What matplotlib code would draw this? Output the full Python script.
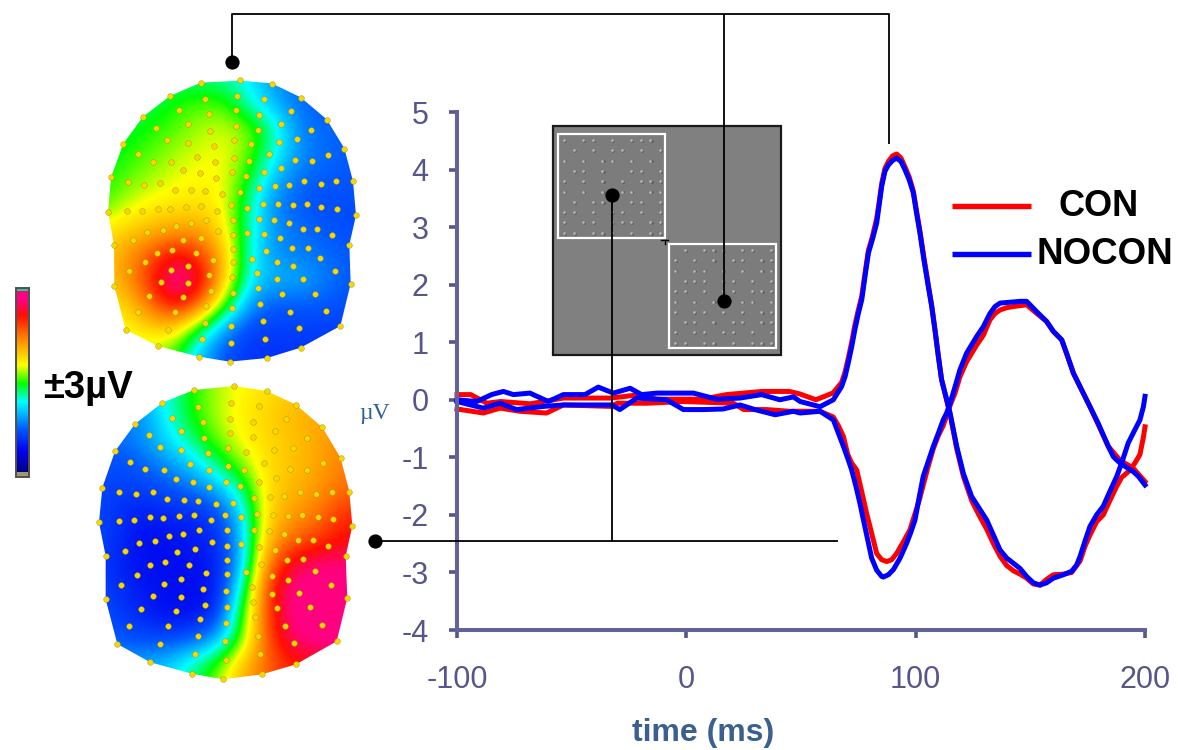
import numpy as np
import matplotlib
matplotlib.use("Agg")
import matplotlib.pyplot as plt
from matplotlib.colors import LinearSegmentedColormap
from matplotlib.patches import Polygon, Rectangle

plt.rcParams['font.family'] = ['Liberation Sans', 'DejaVu Sans']
plt.rcParams['axes.unicode_minus'] = False

# ---------- waveforms (ms, microvolt) ----------
t_nocon_a = [-100,-91.4,-84.9,-79.8,-75.4,-68.2,-60.2,-53.6,-44.2,-38.4,-31.8,-24.5,-19.5,-12.9,3.1,13.2,23.4,32.8,40.8,46.7,49.6,58.3,64.1,67.7,69.2,70.6,72.1,73.5,75,76.5,77.9,79.4,81.1,83,84.2,85.2,86.6,88.1,90,91.7,93.6,95.3,97.2,99,100.4,101.9,103.6,105.5,107,108.4,109.9,111.3,115,117.9,120.8,124.4,127.3,131,133.9,136.8,139.7,142.6,145.5,148.4,151.3,154.2,157.1,160,164.4,168,170.2,171.7,173.8,176,178.9,181.8,184.7,187.7,189.8,192.7,195.6,197.8,199.3,200]
v_nocon_a = [0,-.03,.09,.145,.09,.116,-.03,.09,.09,.22,.116,.2,.09,.116,.116,.01,.03,.09,0,.05,-.03,-.12,0,.23,.40,.64,.92,1.22,1.5,1.74,2.14,2.55,2.78,3.07,3.42,3.71,3.97,4.08,4.16,4.2,4.14,4.0,3.82,3.59,3.24,2.89,2.43,1.97,1.62,1.22,.75,.35,-.23,-.81,-1.28,-1.68,-1.86,-2.09,-2.35,-2.61,-2.75,-2.84,-2.93,-3.07,-3.18,-3.22,-3.18,-3.1,-3.04,-2.98,-2.87,-2.72,-2.46,-2.2,-2.0,-1.85,-1.59,-1.33,-1.1,-.75,-.52,-.35,-.12,.06]
t_nocon_b = [-100,-88.5,-81.2,-74,-62.3,-53.6,-42,-32.5,-29,-21.6,-8.6,-1.3,7.4,16,23.4,29.9,38.7,46.7,49.6,58.3,64.1,66.3,68.5,70.4,72.1,74,75.7,77.5,79.4,80.8,83,85.2,85.9,88.1,90.3,93.2,96.1,98,99.7,101.6,103.3,105.5,107.7,109.9,112,113.5,115,117.2,119.3,122.2,126.6,129.5,132.4,134.6,136.8,139.7,142.6,145.5,148.4,152.8,157.1,160,163.7,165.8,168.8,172.4,176,179.6,184,186.2,189.1,194.9,197.1,200]
v_nocon_b = [-.03,-.145,-.06,-.17,-.115,-.09,-.09,-.09,-.17,.03,.0,-.17,-.17,-.16,-.09,-.17,-.26,-.2,-.23,-.2,-.35,-.58,-.81,-1.02,-1.22,-1.51,-1.8,-2.14,-2.49,-2.75,-2.96,-3.07,-3.08,-3.04,-2.95,-2.75,-2.49,-2.29,-2.09,-1.68,-1.33,-1.07,-.81,-.58,-.35,-.23,-.06,.23,.52,.81,1.1,1.27,1.5,1.62,1.68,1.69,1.7,1.71,1.71,1.53,1.36,1.19,1.04,.81,.46,.17,-.12,-.41,-.81,-.99,-1.1,-1.25,-1.33,-1.48]
t_con_a = [-100,-94,-87,-81,-68,-53.6,-33,-20,-13,7,17.5,33,45,49.6,56.5,64,67.7,69.2,70.6,72.1,73.5,75,76.5,77.9,79.4,81.1,83,84.2,85.2,86.6,88.1,90,91.7,93.6,95.3,97.2,99,100.4,101.9,103.6,105.5,107,108.4,109.9,111.3,115,117.9,120.8,124.4,127.3,131,133.9,136.8,139.7,142.6,145.5,148.4,151.3,154.2,157.1,160,164.4,168,171.7,173.8,176,178.9,181.8,184.7,187.7,189.8,192.7,195.6,197.8,199.3,200]
v_con_a = [.09,.09,-.06,-.03,-.07,.03,.03,.09,.01,.01,.09,.145,.145,.1,0,.12,.3,.48,.72,1,1.3,1.56,1.8,2.2,2.6,2.83,3.15,3.47,3.76,4.02,4.14,4.24,4.27,4.2,4.05,3.87,3.62,3.28,2.92,2.47,2.0,1.64,1.22,.76,.35,-.25,-.85,-1.33,-1.75,-1.98,-2.25,-2.5,-2.72,-2.88,-2.97,-3.03,-3.1,-3.2,-3.22,-3.12,-3.04,-3.03,-3.0,-2.8,-2.55,-2.35,-2.12,-2.0,-1.75,-1.5,-1.35,-1.25,-1.1,-.95,-.65,-.47]
t_con_b = [-100,-88.5,-81.2,-72.5,-61,-53.6,-33,-30,-17,-1.3,20.5,25,35,45,49.6,58.3,64.1,66.3,68.5,70.4,72.1,74.3,76.5,78.6,81,83,85.2,87.4,89.5,91.7,94.6,97.5,101.6,105.5,107.7,109.9,112,115,117.2,119.3,122.2,126.6,129.5,132.4,134.6,136.8,139.7,142.6,148.4,152.8,157.1,160,163.7,168.8,176,184,189.1,194.9,200]
v_con_b = [-.16,-.23,-.145,-.2,-.23,-.09,-.115,-.06,-.06,-.03,-.06,-.17,-.17,-.2,-.2,-.2,-.3,-.45,-.64,-.95,-1.1,-1.22,-1.6,-1.97,-2.35,-2.67,-2.78,-2.81,-2.78,-2.67,-2.47,-2.26,-1.74,-1.15,-.85,-.62,-.45,-.1,.12,.4,.66,.95,1.12,1.39,1.5,1.56,1.6,1.62,1.65,1.5,1.36,1.19,1.04,.46,-.12,-.81,-1.05,-1.19,-1.42]

x_ticks = [-100, 0, 100, 200]
y_ticks = [-4, -3, -2, -1, 0, 1, 2, 3, 4, 5]
legend_names = ["CON", "NOCON"]

# ---------- colour scale ----------
scale_vals = [-3, -2.2, -1.5, -.6, 0, .6, 1.5, 2.2, 2.7, 3]
scale_cols = ['#000070', '#0000f0', '#0058ff', '#00ffff', '#00ff00', '#ffff00', '#ff8000', '#ff1000', '#ff0080', '#ff0080']

# ---------- scalp fields, read on a coarse pixel lattice ----------
map1_x = [100,125,150,175,200,225,250,275,300,325,350]
map1_y = [80,105,130,155,180,205,230,255,280,305,330,355]
map1_v = [
 [-.3,-.3,-.3,-.3,-.3,-.4,-.7,-1.2,-1.4,-1.5,-1.5],
 [-.3,-.3,-.2,.05,.2,.15,-.5,-1.0,-1.4,-1.5,-1.5],
 [-.2,-.1,.05,.2,.4,.5,.3,-.4,-1.3,-1.4,-1.5],
 [-.1,.05,.2,.4,.55,.6,.2,-.6,-1.2,-1.4,-1.5],
 [0,.2,.4,.55,.65,.6,-.1,-1.0,-1.4,-1.5,-1.5],
 [.1,.45,.65,.75,.8,.6,-.4,-1.3,-1.5,-1.6,-1.6],
 [.7,.9,1.1,1.25,1.25,.7,-.5,-1.2,-1.4,-1.5,-1.6],
 [.9,1.3,1.75,2.3,1.95,1.0,-.6,-1.2,-1.3,-1.4,-1.5],
 [.9,1.3,2.05,3.0,2.45,.95,-.7,-1.0,-1.0,-1.3,-1.5],
 [.7,.9,1.6,2.35,1.7,.1,-1.2,-1.5,-1.5,-1.5,-1.6],
 [.5,.6,.9,.85,-.2,-1.2,-1.7,-1.7,-1.7,-1.7,-1.7],
 [.3,.3,.3,.1,-1.0,-1.6,-1.8,-1.8,-1.8,-1.8,-1.8],
]
map2_x = [90,115,140,165,190,215,240,265,290,315,340,365]
map2_y = [390,415,440,465,490,515,540,565,590,615,640,665,690]
map2_v = [
 [-.8,-.8,-.7,-.6,.0,.4,.6,.8,.9,1,1,1],
 [-1.3,-1.3,-1.3,-.6,0.,.4,.7,.9,1.1,1.2,1.2,1.2],
 [-1.5,-1.4,-1.2,-.8,-.3,.25,.6,.85,1,1.2,1.4,1.4],
 [-1.6,-1.6,-1.5,-1.2,-.9,-.3,.3,.8,1,1.2,1.5,1.5],
 [-1.6,-1.7,-1.7,-1.6,-1.4,-1.1,-.4,.8,1.1,1.3,1.6,1.7],
 [-1.6,-1.8,-2,-1.9,-1.9,-1.7,-.9,.8,1.3,1.5,2,2.1],
 [-1.6,-1.8,-2.1,-2.1,-2,-1.9,-1.1,1,1.6,1.9,2.2,2.3],
 [-1.6,-1.9,-2.1,-2.1,-2.1,-2,-1.1,1.4,2.4,2.7,2.7,2.7],
 [-1.6,-1.8,-2,-2.1,-2.1,-2.1,-.6,1.8,2.8,2.8,2.8,2.8],
 [-1.5,-1.7,-1.9,-2.1,-2.1,-1.9,-.1,1.8,2.8,2.8,2.8,2.8],
 [-1.4,-1.5,-1.6,-1.6,-1.5,-1.1,.1,1.7,2.6,2.8,2.8,2.8],
 [-1.1,-1.1,-1,-.9,-.4,.1,1,1.6,2.1,2.2,2.2,2.2],
 [-1,-1,-.9,-.8,-.3,.3,1.1,1.7,2.1,2.2,2.2,2.2],
]

# outlines and electrodes, pixel positions x3 relative to the crop origin
map1_origin = (0, 40)
map1_outline = [(602,128),(720,122),(815,130),(902,172),(980,238),(1033,325),(1059,423),(1068,526),(1048,614),(1052,731),(1021,858),(902,923),(801,954),(689,965),(597,950),(473,918),(377,869),(343,739),(342,615),(324,517),(333,412),(370,311),(429,230),(510,168)]
map1_sites = [(602,130),(720,120),(815,132),(510,168),(614,178),(711,167),(793,178),(902,173),(537,210),(628,222),(709,211),(776,225),(873,213),(429,230),(980,240),(565,253),(707,258),(842,251),(469,264),(631,272),(775,269),(933,271),(502,300),(564,308),(643,318),(702,300),(754,313),(836,306),(892,298),(370,311),(1033,328),(415,342),(591,350),(702,353),(806,343),(983,344),(459,365),(514,366),(645,365),(748,364),(884,361),(936,363),(550,391),(600,400),(647,413),(695,396),(737,408),(792,395),(842,385),(333,412),(384,425),(433,434),(480,428),(913,423),(962,431),(1007,424),(1059,423),(524,449),(573,450),(614,454),(666,461),(719,456),(777,444),(824,439),(868,436),(324,517),(382,514),(426,512),(473,506),(511,506),(557,500),(603,497),(651,512),(694,495),(741,503),(788,491),(835,492),(879,496),(921,493),(964,502),(1011,507),(1068,526),(572,549),(617,540),(527,557),(700,539),(777,537),(822,540),(866,548),(441,577),(488,571),(655,574),(700,586),(741,580),(793,583),(840,593),(908,567),(951,568),(995,584),(342,615),(399,599),(550,600),(604,594),(1048,614),(875,624),(924,624),(799,633),(472,638),(516,630),(588,638),(698,627),(435,665),(638,660),(699,665),(755,656),(830,666),(879,678),(959,654),(387,694),(514,691),(565,677),(627,705),(697,712),(772,699),(831,718),(910,716),(1005,693),(483,726),(564,730),(632,753),(343,739),(1052,731),(773,745),(448,769),(548,771),(698,760),(847,762),(944,762),(413,815),(525,816),(619,798),(697,804),(781,791),(869,815),(979,812),(790,842),(615,849),(694,857),(897,864),(1021,858),(377,869),(503,869),(606,896),(796,896),(694,909),(473,918),(902,923),(597,950),(801,954),(689,965)]
map2_origin = (0, 370)
map2_outline = [(702,48),(800,63),(888,104),(967,172),(1022,264),(1048,365),(1057,467),(1037,559),(1042,683),(1010,814),(888,883),(786,913),(670,928),(575,911),(451,877),(352,822),(317,688),(317,558),(297,457),(307,353),(345,244),(405,162),(487,98),(582,60)]
map2_sites = [(582,60),(702,48),(800,63),(487,98),(595,110),(692,98),(777,108),(888,104),(515,144),(610,156),(691,146),(760,157),(858,147),(405,162),(967,172),(543,183),(690,189),(826,182),(447,195),(612,205),(759,201),(921,204),(480,232),(542,240),(623,250),(683,235),(737,247),(821,240),(878,233),(345,244),(1022,264),(391,276),(571,283),(683,288),(791,278),(970,280),(436,298),(491,299),(626,299),(731,300),(871,298),(922,299),(528,327),(580,337),(627,351),(677,335),(720,349),(777,335),(827,325),(307,353),(358,365),(409,373),(458,367),(900,366),(949,373),(995,366),(1048,365),(501,388),(552,390),(594,394),(647,402),(700,398),(761,385),(809,381),(853,379),(297,457),(356,453),(401,450),(451,442),(489,444),(536,439),(583,436),(632,451),(675,435),(723,442),(772,432),(820,434),(865,437),(907,435),(953,442),(999,448),(1057,467),(549,491),(597,480),(506,498),(681,480),(761,479),(807,483),(851,491),(417,520),(465,514),(635,516),(681,528),(723,523),(777,531),(825,539),(895,511),(938,511),(984,528),(317,558),(374,542),(531,545),(585,537),(1037,559),(861,569),(910,568),(783,581),(449,585),(494,577),(568,585),(680,571),(411,615),(618,610),(680,612),(738,606),(815,618),(864,629),(946,604),(362,644),(492,643),(544,628),(992,644),(608,656),(677,662),(756,652),(815,671),(897,668),(460,678),(543,681),(614,704),(317,688),(1042,683),(759,696),(424,718),(527,722),(680,710),(831,713),(930,712),(388,767),(503,768),(599,748),(678,758),(766,741),(855,767),(966,765),(774,797),(595,799),(676,812),(882,820),(1010,814),(352,822),(481,822),(586,853),(781,853),(677,870),(451,877),(888,883),(575,911),(786,913),(670,928)]

# stimulus texture rows (x = light dot)
tex_a = ["x.xx.x.xxx.", ".x.x.xx.x.x", "x.x.xx.x.x.", ".xx.x..xx.x", "x.x.x.x.xxx", "x.x.x.xx.xx", ".x.xx..xx.x", "xx.x.xx.x.x", "x.xx.xxx.xx", "xx.xxx.x.xx"]
tex_b = [".x.xxx.xx.x", "x.x.x.xx.xx", "x.xx.x.x.xx", ".xxx.xx.x.x", "xx.x.xx.xxx", "x.x.xx.xx.x", "x.xx.x.x.xx", ".xx.x.xx.xx", "x.xx.xx.x.x", "xx.xx.x.xxx"]

WIDTH, HEIGHT = 1178, 750
fig = plt.figure(figsize=(WIDTH/100, HEIGHT/100), dpi=100, facecolor='white')

# main chart
L, R, T, B = 457, 1145, 112, 630
ax = fig.add_axes([L/WIDTH, 1-B/HEIGHT, (R-L)/WIDTH, (B-T)/HEIGHT])
axis_col = '#62629a'
ax.set_xlim(-100, 200); ax.set_ylim(-4, 5)
ax.set_xticks(x_ticks); ax.set_yticks(y_ticks)
for s in ('top', 'right'):
    ax.spines[s].set_visible(False)
for s in ('left', 'bottom'):
    ax.spines[s].set_color(axis_col); ax.spines[s].set_linewidth(2.9)
ax.tick_params(axis='x', colors='#56568a', length=5.5, width=2.6, labelsize=22, pad=20)
ax.tick_params(axis='y', colors='#56568a', length=5.5, width=2.6, labelsize=22, pad=15)
lw = 3.6
ax.plot(t_con_a, v_con_a, color='#ff0000', lw=lw, clip_on=False, solid_joinstyle='round')
ax.plot(t_con_b, v_con_b, color='#ff0000', lw=lw, clip_on=False, solid_joinstyle='round')
ax.plot(t_nocon_a, v_nocon_a, color='#0000ff', lw=lw, clip_on=False, solid_joinstyle='round')
ax.plot(t_nocon_b, v_nocon_b, color='#0000ff', lw=lw, clip_on=False, solid_joinstyle='round')
ax.patch.set_alpha(0)

# pixel overlay
ov = fig.add_axes([0, 0, 1, 1], zorder=5)
ov.set_axis_off(); ov.patch.set_alpha(0)
cmap = LinearSegmentedColormap.from_list('scalp', [((v+3)/6, c) for v, c in zip(scale_vals, scale_cols)], N=512)

def scalp(xs, ys, vals, outline, sites, origin):
    ox, oy = origin
    dx = xs[1]-xs[0]; dy = ys[1]-ys[0]
    im = ov.imshow(np.array(vals), cmap=cmap, vmin=-3, vmax=3, origin='upper', aspect='auto',
                   extent=(xs[0]-dx/2, xs[-1]+dx/2, ys[-1]+dy/2, ys[0]-dy/2),
                   interpolation='bicubic', interpolation_stage='data', zorder=1)
    poly = Polygon([(ox+a/3, oy+b/3) for a, b in outline], closed=True, transform=ov.transData, fc='none', ec='none')
    ov.add_patch(poly)
    im.set_clip_path(poly)
    ov.scatter([ox+a/3 for a, b in sites], [oy+b/3 for a, b in sites], s=17, c='#f5d800', edgecolors='#a89010', linewidths=.3, zorder=2)

scalp(map1_x, map1_y, map1_v, map1_outline, map1_sites, map1_origin)
scalp(map2_x, map2_y, map2_v, map2_outline, map2_sites, map2_origin)

# colour bar
ov.imshow(np.linspace(3, -3, 256).reshape(-1, 1), cmap=cmap, vmin=-3, vmax=3, aspect='auto',
          extent=(15.5, 28.5, 476, 291), origin='upper', zorder=1)
ov.add_patch(Rectangle((15.5, 287.5), 13, 3.5, fc='#20d090', ec='none', zorder=2))
ov.add_patch(Rectangle((15.5, 472), 13, 4, fc='#a09870', ec='none', zorder=2))
ov.add_patch(Rectangle((15.5, 287.5), 13, 189, fc='none', ec='#505050', lw=1.4, zorder=3))
ov.text(43, 388, '±3µV', fontsize=27.5, fontweight='bold', color='black', ha='left', va='center')

# stimulus inset
ov.add_patch(Rectangle((553, 126), 228, 229, fc='#808080', ec='#1a1a1a', lw=1.6, zorder=1))
for (x0, y0, tex) in ((558, 134, tex_a), (669, 244, tex_b)):
    ov.add_patch(Rectangle((x0, y0), 107, 104, fc='#7c7c7c', ec='white', lw=1.6, zorder=1.5))
    xs = [x0+6+c*9.6 for r in range(len(tex)) for c, ch in enumerate(tex[r]) if ch == 'x']
    ys = [y0+6+r*10.3 for r in range(len(tex)) for c, ch in enumerate(tex[r]) if ch == 'x']
    ov.scatter([x+1.2 for x in xs], [y+.8 for y in ys], s=4, c='#606060', linewidths=0, zorder=1.55)
    ov.scatter(xs, ys, s=3.5, c='#b8b8b8', linewidths=0, zorder=1.6)
ov.plot([661, 668], [240, 240], color='black', lw=1, zorder=2)
ov.plot([664.5, 664.5], [240, 244], color='black', lw=1, zorder=2)

# connectors and dots
line = dict(color='black', lw=1.3, zorder=3, solid_capstyle='butt')
ov.plot([232, 232, 889, 889], [62, 14, 14, 144], **line)
ov.plot([724, 724], [14, 301], **line)
ov.plot([375, 838], [541, 541], **line)
ov.plot([612, 612], [195, 541], **line)
ov.scatter([232, 375, 612, 724], [62, 541, 195, 301], s=105, c='black', linewidths=0, zorder=4)

# legend
ov.plot([952, 1031], [206, 206], color='#ff0000', lw=3.9, solid_capstyle='butt', zorder=3)
ov.plot([952, 1031], [254, 254], color='#0000ff', lw=3.9, solid_capstyle='butt', zorder=3)
ov.text(1099, 206, legend_names[0], fontsize=26, fontweight='bold', ha='center', va='center', color='black')
ov.text(1105, 254, legend_names[1], fontsize=26.5, fontweight='bold', ha='center', va='center', color='black')

# axis captions
ov.text(375, 414, 'µV', family='Liberation Serif', fontsize=17, color='#2f5f9a', ha='center', va='center')
ov.text(703, 733, 'time (ms)', fontsize=23, fontweight='bold', color='#3a5f90', ha='center', va='center')

ov.set_xlim(0, WIDTH); ov.set_ylim(HEIGHT, 0)
fig.savefig('out.png', dpi=100)
